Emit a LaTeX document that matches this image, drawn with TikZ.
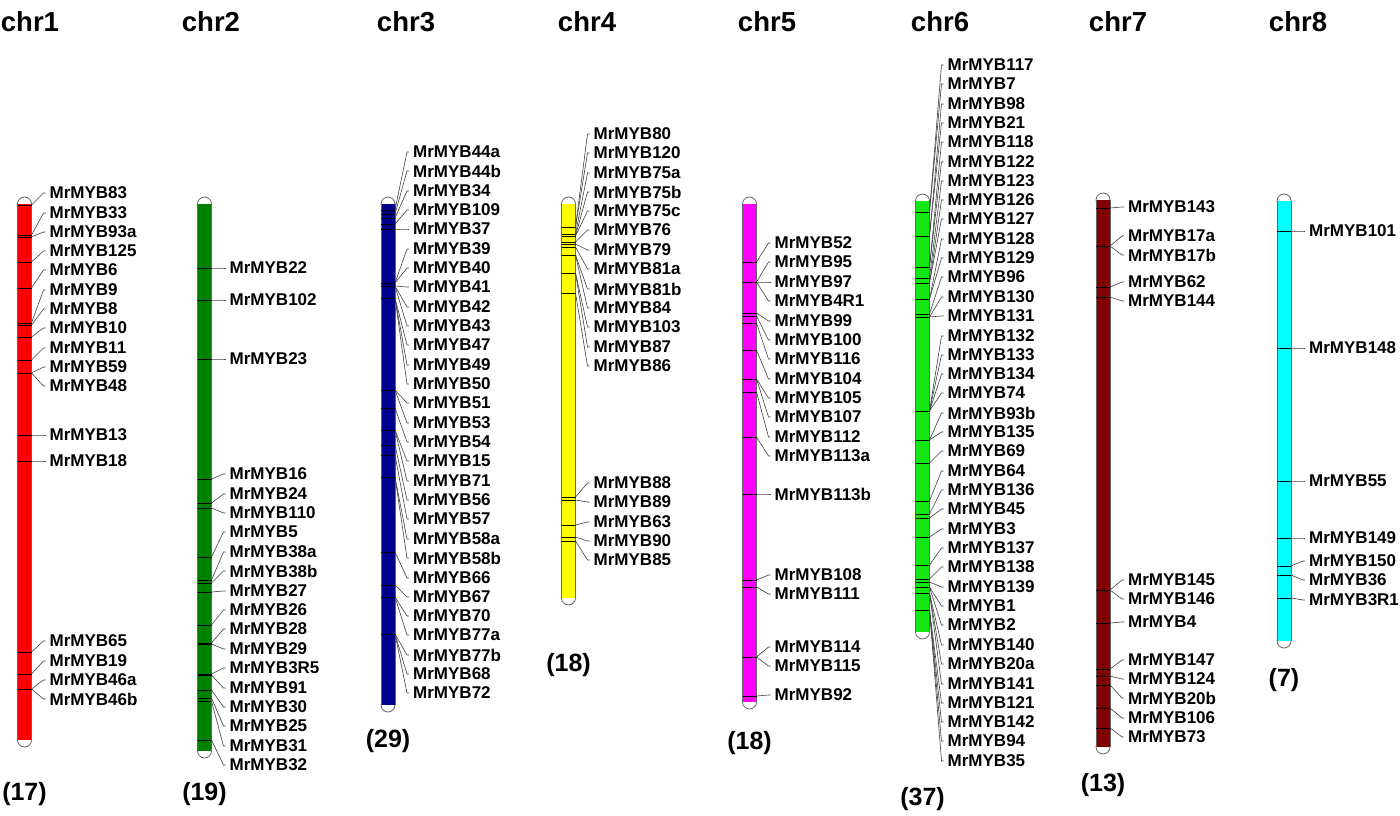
\documentclass[tikz,border=0pt]{standalone}
\usepackage{fontspec}
\setmainfont{Liberation Sans}
\tikzset{
    chr cap/.style = {
        draw = black!60,
        fill = white,
        line width = 0.8pt,
        },
    chr side/.style = {
        draw = black!60,
        line width = 0.8pt,
        },
    chr title/.style = {
        font = \bfseries\fontsize{27.5}{27.5}\selectfont,
        inner sep = 0pt,
        },
    chr count/.style = {
        font = \bfseries\fontsize{25}{25}\selectfont,
        inner sep = 0pt,
        },
    gene label/.style = {
        font = \bfseries\fontsize{17}{17}\selectfont,
        anchor = west,
        inner sep = 0pt,
        },
    gene tick/.style = {
        draw = black,
        line width = 0.8pt,
        },
    gene link/.style = {
        draw = black!75,
        line width = 0.6pt,
        },
}
\definecolor{chrred}{RGB}{255,0,0}
\definecolor{chrgreen}{RGB}{0,128,0}
\definecolor{chrnavy}{RGB}{0,0,140}
\definecolor{chryellow}{RGB}{255,255,0}
\definecolor{chrmagenta}{RGB}{255,0,255}
\definecolor{chrlime}{RGB}{20,230,20}
\definecolor{chrmaroon}{RGB}{128,0,0}
\definecolor{chrcyan}{RGB}{0,255,255}
% name, centre x, top, bottom, colour, title x, count y, count
\newcommand{\chromosome}[8]{
    \draw[chr cap] (#2,#3) circle[radius=7];
    \draw[chr cap] (#2,#4) circle[radius=7];
    \fill[#5] (#2-7,#3) rectangle (#2+7,#4);
    \draw[chr side] (#2-7,#3) -- (#2-7,#4) (#2+7,#3) -- (#2+7,#4);
    \node[chr title] (#1) at (#6,22) {#1};
    \node[chr count] (#1n) at (#2,#7) {(#8)};
}
% centre x, list of tick y / label y / gene
\newcommand{\genes}[2]{
    \foreach \tk/\lb/\gn in {#2}{
        \coordinate (t\gn) at (#1+7,\tk);
        \draw[gene tick] (#1-7,\tk) -- (t\gn);
        \node[gene label] (\gn) at (#1+25,\lb) {\gn};
        \draw[gene link] (t\gn) -- ([xshift=-6pt]\gn.west) -- ([xshift=-4pt]\gn.west);
    }
}
\begin{document}
\begin{tikzpicture}[x=1pt, y=-1pt]
    \useasboundingbox (0,0) rectangle (1400,816);

    % chr1
    \chromosome{chr1}{24.5}{204}{740}{chrred}{30}{794}{17}
    \genes{24.5}{205/193/MrMYB83, 235/213/MrMYB33, 237/232/MrMYB93a, 262/251/MrMYB125,
        288/270/MrMYB6, 323/290/MrMYB9, 325/309/MrMYB8, 337/328/MrMYB10, 360/348/MrMYB11,
        373/367/MrMYB59, 373/386/MrMYB48, 435/435/MrMYB13, 461/461/MrMYB18,
        652/641/MrMYB65, 674/661/MrMYB19, 689/680/MrMYB46a, 689/699/MrMYB46b}

    % chr2
    \chromosome{chr2}{204.5}{204}{751}{chrgreen}{211}{794}{19}
    \genes{204.5}{268/268/MrMYB22, 300/300/MrMYB102, 359/359/MrMYB23, 479/474/MrMYB16,
        503/494/MrMYB24, 508/513/MrMYB110, 557/532/MrMYB5, 580/552/MrMYB38a,
        583/571/MrMYB38b, 592/591/MrMYB27, 625/610/MrMYB26, 643/629/MrMYB28,
        644/649/MrMYB29, 674/668/MrMYB3R5, 675/688/MrMYB91, 690/707/MrMYB30,
        698/726/MrMYB25, 701/746/MrMYB31, 740/765/MrMYB32}

    % chr3
    \chromosome{chr3}{388}{204}{705}{chrnavy}{406}{741}{29}
    \genes{388}{210/152/MrMYB44a, 214/171/MrMYB44b, 218/191/MrMYB34, 224/210/MrMYB109,
        229/229/MrMYB37, 283/249/MrMYB39, 283/268/MrMYB40, 286/287/MrMYB41,
        286/307/MrMYB42, 286/326/MrMYB43, 298/345/MrMYB47, 298/365/MrMYB49,
        298/384/MrMYB50, 390/403/MrMYB51, 390/423/MrMYB53, 408/442/MrMYB54,
        430/461/MrMYB15, 430/481/MrMYB71, 445/500/MrMYB56, 455/519/MrMYB57,
        477/539/MrMYB58a, 477/558/MrMYB58b, 552/578/MrMYB66, 585/597/MrMYB67,
        597/616/MrMYB70, 597/635/MrMYB77a, 634/655/MrMYB77b, 634/674/MrMYB68,
        634/693/MrMYB72}

    % chr4
    \chromosome{chr4}{568.5}{204}{598}{chryellow}{587}{665}{18}
    \genes{568.5}{227/134/MrMYB80, 227/153/MrMYB120, 234/173/MrMYB75a, 236/192/MrMYB75b,
        236/211/MrMYB75c, 242/230/MrMYB76, 244/250/MrMYB79, 247/269/MrMYB81a,
        255/289/MrMYB81b, 255/308/MrMYB84, 273/327/MrMYB103, 273/347/MrMYB87,
        293/366/MrMYB86, 497/483/MrMYB88, 500/502/MrMYB89, 525/522/MrMYB63,
        537/541/MrMYB90, 541/560/MrMYB85}

    % chr5
    \chromosome{chr5}{749.5}{204}{702}{chrmagenta}{767}{743}{18}
    \genes{749.5}{262/243/MrMYB52, 282/262/MrMYB95, 282/282/MrMYB97, 282/301/MrMYB4R1,
        313/321/MrMYB99, 316/340/MrMYB100, 323/359/MrMYB116, 350/379/MrMYB104,
        379/398/MrMYB105, 379/417/MrMYB107, 392/437/MrMYB112, 437/456/MrMYB113a,
        494/494/MrMYB113b, 580/575/MrMYB108, 587/594/MrMYB111, 657/647/MrMYB114,
        657/666/MrMYB115, 696/695/MrMYB92}

    % chr6
    \chromosome{chr6}{922.5}{201}{632}{chrlime}{940}{799}{37}
    \genes{922.5}{212/65/MrMYB117, 212/84/MrMYB7, 236/104/MrMYB98, 236/123/MrMYB21,
        267/142/MrMYB118, 267/162/MrMYB122, 278/181/MrMYB123, 283/200/MrMYB126,
        283/219/MrMYB127, 299/239/MrMYB128, 299/258/MrMYB129, 314/277/MrMYB96,
        317/297/MrMYB130, 317/316/MrMYB131, 411/336/MrMYB132, 411/355/MrMYB133,
        411/374/MrMYB134, 411/393/MrMYB74, 440/413/MrMYB93b, 440/432/MrMYB135,
        463/451/MrMYB69, 501/471/MrMYB64, 514/490/MrMYB136, 518/509/MrMYB45,
        537/529/MrMYB3, 565/548/MrMYB137, 579/567/MrMYB138, 582/587/MrMYB139,
        587/606/MrMYB1, 587/625/MrMYB2, 593/645/MrMYB140, 593/664/MrMYB20a,
        593/684/MrMYB141, 610/703/MrMYB121, 610/722/MrMYB142, 610/741/MrMYB94,
        610/761/MrMYB35}

    % chr7
    \chromosome{chr7}{1103}{200}{747}{chrmaroon}{1118}{785}{13}
    \genes{1103}{208/207/MrMYB143, 246/236/MrMYB17a, 246/255/MrMYB17b, 287/282/MrMYB62,
        297/301/MrMYB144, 590/580/MrMYB145, 590/599/MrMYB146, 623/622/MrMYB4,
        669/660/MrMYB147, 676/679/MrMYB124, 685/698/MrMYB20b, 708/718/MrMYB106,
        728/737/MrMYB73}

    % chr8
    \chromosome{chr8}{1284}{201}{641}{chrcyan}{1298}{680}{7}
    \genes{1284}{231/231/MrMYB101, 348/348/MrMYB148, 481/481/MrMYB55, 538/538/MrMYB149,
        566/561/MrMYB150, 575/580/MrMYB36, 598/600/MrMYB3R1}
\end{tikzpicture}
\end{document}
